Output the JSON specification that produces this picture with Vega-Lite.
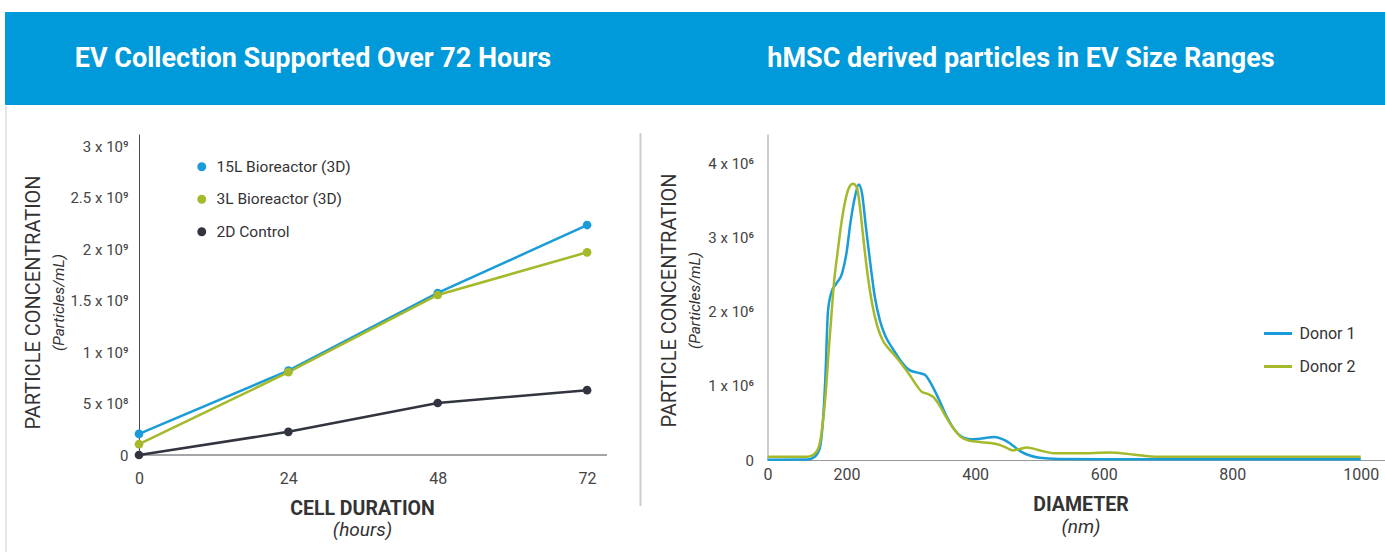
{
  "$schema": "https://vega.github.io/schema/vega-lite/v6.json",
  "padding": {"left": 5, "top": 12, "right": 0, "bottom": 0},
  "background": "#ffffff",
  "config": {"font": "Roboto", "view": {"stroke": null}},
  "columns": 1,
  "align": "none",
  "spacing": 0,
  "datasets": {
    "growth": [
      {"series": "15L Bioreactor (3D)", "hours": 0, "value": 205000000},
      {"series": "15L Bioreactor (3D)", "hours": 24, "value": 820000000},
      {"series": "15L Bioreactor (3D)", "hours": 48, "value": 1575000000},
      {"series": "15L Bioreactor (3D)", "hours": 72, "value": 2235000000},
      {"series": "3L Bioreactor (3D)", "hours": 0, "value": 105000000},
      {"series": "3L Bioreactor (3D)", "hours": 24, "value": 805000000},
      {"series": "3L Bioreactor (3D)", "hours": 48, "value": 1555000000},
      {"series": "3L Bioreactor (3D)", "hours": 72, "value": 1970000000},
      {"series": "2D Control", "hours": 0, "value": 0},
      {"series": "2D Control", "hours": 24, "value": 225000000},
      {"series": "2D Control", "hours": 48, "value": 505000000},
      {"series": "2D Control", "hours": 72, "value": 630000000}
    ],
    "donors": [
      {"donor": "Donor 1", "nm": 77, "v": 5000},
      {"donor": "Donor 1", "nm": 140, "v": 8000},
      {"donor": "Donor 1", "nm": 150, "v": 40000},
      {"donor": "Donor 1", "nm": 158, "v": 150000},
      {"donor": "Donor 1", "nm": 163, "v": 500000},
      {"donor": "Donor 1", "nm": 167, "v": 1100000},
      {"donor": "Donor 1", "nm": 171, "v": 2000000},
      {"donor": "Donor 1", "nm": 176, "v": 2250000},
      {"donor": "Donor 1", "nm": 184, "v": 2380000},
      {"donor": "Donor 1", "nm": 193, "v": 2520000},
      {"donor": "Donor 1", "nm": 200, "v": 2800000},
      {"donor": "Donor 1", "nm": 206, "v": 3200000},
      {"donor": "Donor 1", "nm": 213, "v": 3550000},
      {"donor": "Donor 1", "nm": 219, "v": 3720000},
      {"donor": "Donor 1", "nm": 224, "v": 3600000},
      {"donor": "Donor 1", "nm": 230, "v": 3150000},
      {"donor": "Donor 1", "nm": 237, "v": 2650000},
      {"donor": "Donor 1", "nm": 244, "v": 2200000},
      {"donor": "Donor 1", "nm": 252, "v": 1880000},
      {"donor": "Donor 1", "nm": 260, "v": 1680000},
      {"donor": "Donor 1", "nm": 272, "v": 1500000},
      {"donor": "Donor 1", "nm": 285, "v": 1330000},
      {"donor": "Donor 1", "nm": 297, "v": 1220000},
      {"donor": "Donor 1", "nm": 310, "v": 1180000},
      {"donor": "Donor 1", "nm": 322, "v": 1150000},
      {"donor": "Donor 1", "nm": 332, "v": 1020000},
      {"donor": "Donor 1", "nm": 343, "v": 830000},
      {"donor": "Donor 1", "nm": 355, "v": 600000},
      {"donor": "Donor 1", "nm": 367, "v": 420000},
      {"donor": "Donor 1", "nm": 378, "v": 320000},
      {"donor": "Donor 1", "nm": 392, "v": 280000},
      {"donor": "Donor 1", "nm": 410, "v": 290000},
      {"donor": "Donor 1", "nm": 430, "v": 310000},
      {"donor": "Donor 1", "nm": 445, "v": 270000},
      {"donor": "Donor 1", "nm": 458, "v": 200000},
      {"donor": "Donor 1", "nm": 470, "v": 120000},
      {"donor": "Donor 1", "nm": 485, "v": 60000},
      {"donor": "Donor 1", "nm": 500, "v": 30000},
      {"donor": "Donor 1", "nm": 530, "v": 15000},
      {"donor": "Donor 1", "nm": 600, "v": 10000},
      {"donor": "Donor 1", "nm": 800, "v": 10000},
      {"donor": "Donor 1", "nm": 1000, "v": 10000},
      {"donor": "Donor 2", "nm": 77, "v": 45000},
      {"donor": "Donor 2", "nm": 140, "v": 45000},
      {"donor": "Donor 2", "nm": 150, "v": 80000},
      {"donor": "Donor 2", "nm": 157, "v": 180000},
      {"donor": "Donor 2", "nm": 163, "v": 500000},
      {"donor": "Donor 2", "nm": 168, "v": 950000},
      {"donor": "Donor 2", "nm": 172, "v": 1450000},
      {"donor": "Donor 2", "nm": 176, "v": 1900000},
      {"donor": "Donor 2", "nm": 180, "v": 2350000},
      {"donor": "Donor 2", "nm": 186, "v": 2800000},
      {"donor": "Donor 2", "nm": 192, "v": 3200000},
      {"donor": "Donor 2", "nm": 198, "v": 3500000},
      {"donor": "Donor 2", "nm": 204, "v": 3680000},
      {"donor": "Donor 2", "nm": 210, "v": 3730000},
      {"donor": "Donor 2", "nm": 216, "v": 3680000},
      {"donor": "Donor 2", "nm": 221, "v": 3400000},
      {"donor": "Donor 2", "nm": 226, "v": 3000000},
      {"donor": "Donor 2", "nm": 232, "v": 2550000},
      {"donor": "Donor 2", "nm": 240, "v": 2100000},
      {"donor": "Donor 2", "nm": 248, "v": 1800000},
      {"donor": "Donor 2", "nm": 256, "v": 1620000},
      {"donor": "Donor 2", "nm": 266, "v": 1500000},
      {"donor": "Donor 2", "nm": 276, "v": 1400000},
      {"donor": "Donor 2", "nm": 288, "v": 1270000},
      {"donor": "Donor 2", "nm": 298, "v": 1150000},
      {"donor": "Donor 2", "nm": 308, "v": 1020000},
      {"donor": "Donor 2", "nm": 317, "v": 920000},
      {"donor": "Donor 2", "nm": 327, "v": 890000},
      {"donor": "Donor 2", "nm": 335, "v": 850000},
      {"donor": "Donor 2", "nm": 345, "v": 730000},
      {"donor": "Donor 2", "nm": 355, "v": 580000},
      {"donor": "Donor 2", "nm": 367, "v": 420000},
      {"donor": "Donor 2", "nm": 378, "v": 310000},
      {"donor": "Donor 2", "nm": 392, "v": 260000},
      {"donor": "Donor 2", "nm": 410, "v": 240000},
      {"donor": "Donor 2", "nm": 436, "v": 210000},
      {"donor": "Donor 2", "nm": 450, "v": 160000},
      {"donor": "Donor 2", "nm": 458, "v": 130000},
      {"donor": "Donor 2", "nm": 470, "v": 150000},
      {"donor": "Donor 2", "nm": 480, "v": 170000},
      {"donor": "Donor 2", "nm": 492, "v": 150000},
      {"donor": "Donor 2", "nm": 505, "v": 120000},
      {"donor": "Donor 2", "nm": 525, "v": 90000},
      {"donor": "Donor 2", "nm": 560, "v": 90000},
      {"donor": "Donor 2", "nm": 610, "v": 100000},
      {"donor": "Donor 2", "nm": 635, "v": 85000},
      {"donor": "Donor 2", "nm": 660, "v": 60000},
      {"donor": "Donor 2", "nm": 680, "v": 45000},
      {"donor": "Donor 2", "nm": 800, "v": 45000},
      {"donor": "Donor 2", "nm": 1000, "v": 45000}
    ]
  },
  "concat": [
    {
      "width": 1380,
      "height": 93,
      "view": {"fill": "#0099d9", "stroke": null},
      "data": {"values": [
        {"panel": "left", "title": "EV Collection Supported Over 72 Hours"},
        {"panel": "right", "title": "hMSC derived particles in EV Size Ranges"}
      ]},
      "mark": {"type": "text", "font": "Roboto", "fontSize": 27, "fontWeight": "bold", "fill": "#ffffff"},
      "encoding": {
        "x": {"field": "panel", "type": "nominal", "scale": {"type": "point", "range": [308, 1016], "padding": 0}, "axis": null},
        "text": {"field": "title"}
      }
    },
    {
      "bounds": "full",
      "spacing": 30.5,
      "resolve": {"scale": {"color": "independent"}, "legend": {"color": "independent"}},
      "hconcat": [
        {
          "width": 602,
          "height": 321,
          "layer": [
            {
              "data": {"values": [{"edge": "left border"}]},
              "mark": {"type": "rule", "color": "#cccccc", "strokeWidth": 1, "clip": false},
              "encoding": {
                "x": {"datum": -21.37, "type": "quantitative", "scale": {"domain": [-21.53, 75.2], "nice": false, "zero": false}, "axis": null},
                "y": {"datum": 3392000000, "type": "quantitative", "scale": {"domain": [0, 3120000000], "nice": false}, "axis": null},
                "y2": {"datum": -952600000}
              }
            },
            {
              "data": {"values": [{"edge": "x baseline"}]},
              "mark": {"type": "rule", "color": "#4a4a4a", "strokeWidth": 1, "clip": false},
              "encoding": {
                "x": {"datum": 0, "type": "quantitative", "scale": {"domain": [-21.53, 75.2], "nice": false, "zero": false}, "axis": null},
                "x2": {"datum": 75.2},
                "y": {"datum": 0, "type": "quantitative", "scale": {"domain": [0, 3120000000], "nice": false}, "axis": null}
              }
            },
            {
              "data": {"name": "growth"},
              "mark": {"type": "line", "strokeWidth": 2.5},
              "encoding": {
                "x": {"field": "hours", "type": "quantitative", "scale": {"domain": [-21.53, 75.2], "nice": false, "zero": false},
                  "axis": {"title": "CELL DURATION", "orient": "bottom", "values": [0, 24, 48, 72], "ticks": false, "grid": false, "domain": false,
                    "labelFontSize": 16, "labelColor": "#444444", "labelPadding": 15, "labelFlush": false,
                    "titleFontSize": 19.5, "titleFontWeight": "bold", "titleColor": "#333333", "titleX": 357, "titleY": 53, "titleBaseline": "middle", "titleAlign": "center"}},
                "y": {"field": "value", "type": "quantitative", "scale": {"domain": [0, 3120000000], "nice": false},
                  "axis": {"title": "PARTICLE CONCENTRATION", "orient": "left", "offset": -134, "values": [0, 500000000, 1000000000, 1500000000, 2000000000, 2500000000, 3000000000],
                    "labelExpr": "datum.value == 0 ? '0' : (datum.value < 1000000000 ? (datum.value/100000000) + ' x 10⁸' : (datum.value/1000000000) + ' x 10⁹')",
                    "ticks": false, "grid": false, "domainColor": "#4a4a4a", "labelFontSize": 15, "labelColor": "#444444", "labelPadding": 11,
                    "titleFontSize": 20, "titleFontWeight": "normal", "titleColor": "#333333", "titleX": -106, "titleY": 168, "titleAngle": -90, "titleBaseline": "middle", "titleAlign": "center"}},
                "color": {"field": "series", "type": "nominal",
                  "scale": {"domain": ["15L Bioreactor (3D)", "3L Bioreactor (3D)", "2D Control"], "range": ["#1a9cd8", "#a5b92b", "#32353f"]},
                  "legend": {"title": null, "orient": "none", "legendX": 189, "legendY": 25, "symbolType": "circle", "symbolSize": 55,
                    "labelFontSize": 15.5, "labelColor": "#333333", "rowPadding": 15.5, "labelOffset": 7, "padding": 0}}
              }
            },
            {
              "data": {"name": "growth"},
              "mark": {"type": "point", "filled": true, "size": 75, "opacity": 1},
              "encoding": {
                "x": {"field": "hours", "type": "quantitative", "scale": {"domain": [-21.53, 75.2], "nice": false, "zero": false},
                  "axis": {"title": "(hours)", "orient": "bottom", "labels": false, "ticks": false, "domain": false, "grid": false,
                    "titleFontSize": 19, "titleFontStyle": "italic", "titleFontWeight": "normal", "titleColor": "#333333", "titleX": 357, "titleY": 74, "titleBaseline": "middle", "titleAlign": "center"}},
                "y": {"field": "value", "type": "quantitative", "scale": {"domain": [0, 3120000000], "nice": false},
                  "axis": {"title": "(Particles/mL)", "orient": "left", "offset": -134, "labels": false, "ticks": false, "domain": false, "grid": false,
                    "titleFontSize": 15.5, "titleFontStyle": "italic", "titleFontWeight": "normal", "titleColor": "#333333", "titleX": -81, "titleY": 168, "titleAngle": -90, "titleBaseline": "middle", "titleAlign": "center"}},
                "color": {"field": "series", "type": "nominal"}
              }
            }
          ],
          "resolve": {"scale": {"x": "independent", "y": "independent"}, "axis": {"x": "independent", "y": "independent"}}
        },
        {
          "width": 619,
          "height": 326,
          "layer": [
            {
              "data": {"values": [{"edge": "separator"}]},
              "mark": {"type": "rule", "color": "#cccccc", "strokeWidth": 2, "clip": false},
              "encoding": {
                "x": {"datum": -120.6, "type": "quantitative", "scale": {"domain": [77, 1040], "nice": false, "zero": false},
                  "axis": {"title": "(nm)", "orient": "bottom", "labels": false, "ticks": false, "domain": false, "grid": false,
                    "titleFontSize": 19, "titleFontStyle": "italic", "titleFontWeight": "normal", "titleColor": "#333333", "titleX": 313, "titleY": 66, "titleBaseline": "middle", "titleAlign": "center"}},
                "y": {"datum": 4410000, "type": "quantitative", "scale": {"domain": [0, 4400000], "nice": false},
                  "axis": {"title": "(Particles/mL)", "orient": "left", "labels": false, "ticks": false, "domain": false, "grid": false,
                    "titleFontSize": 15.5, "titleFontStyle": "italic", "titleFontWeight": "normal", "titleColor": "#333333", "titleX": -73, "titleY": 166, "titleAngle": -90, "titleBaseline": "middle", "titleAlign": "center"}},
                "y2": {"datum": -620000}
              }
            },
            {
              "data": {"name": "donors"},
              "mark": {"type": "line", "strokeWidth": 2.5, "interpolate": "monotone"},
              "encoding": {
                "x": {"field": "nm", "type": "quantitative", "scale": {"domain": [77, 1040], "nice": false, "zero": false},
                  "axis": {"title": "DIAMETER", "orient": "bottom", "values": [77, 200, 400, 600, 800, 1000], "labelExpr": "datum.value < 100 ? '0' : '' + datum.value",
                    "ticks": false, "grid": false, "domainColor": "#999999", "labelFontSize": 16, "labelColor": "#444444", "labelPadding": 6, "labelFlush": false,
                    "titleFontSize": 19.5, "titleFontWeight": "bold", "titleColor": "#333333", "titleX": 313, "titleY": 44, "titleBaseline": "middle", "titleAlign": "center"}},
                "y": {"field": "v", "type": "quantitative", "scale": {"domain": [0, 4400000], "nice": false},
                  "axis": {"title": "PARTICLE CONCENTRATION", "orient": "left", "values": [0, 1000000, 2000000, 3000000, 4000000],
                    "labelExpr": "datum.value == 0 ? '0' : (datum.value/1000000) + ' x 10⁶'",
                    "ticks": false, "grid": false, "domainColor": "#999999", "labelFontSize": 15, "labelColor": "#444444", "labelPadding": 14,
                    "titleFontSize": 20, "titleFontWeight": "normal", "titleColor": "#333333", "titleX": -98, "titleY": 166, "titleAngle": -90, "titleBaseline": "middle", "titleAlign": "center"}},
                "color": {"field": "donor", "type": "nominal",
                  "scale": {"domain": ["Donor 1", "Donor 2"], "range": ["#1a9cd8", "#a5b92b"]},
                  "legend": {"title": null, "orient": "none", "legendX": 495, "legendY": 184, "symbolType": "stroke", "symbolSize": 784, "symbolStrokeWidth": 3,
                    "labelFontSize": 16, "labelColor": "#333333", "rowPadding": 9, "labelOffset": 6, "padding": 0}}
              }
            }
          ],
          "resolve": {"scale": {"x": "independent", "y": "independent"}, "axis": {"x": "independent", "y": "independent"}}
        }
      ]
    }
  ]
}
